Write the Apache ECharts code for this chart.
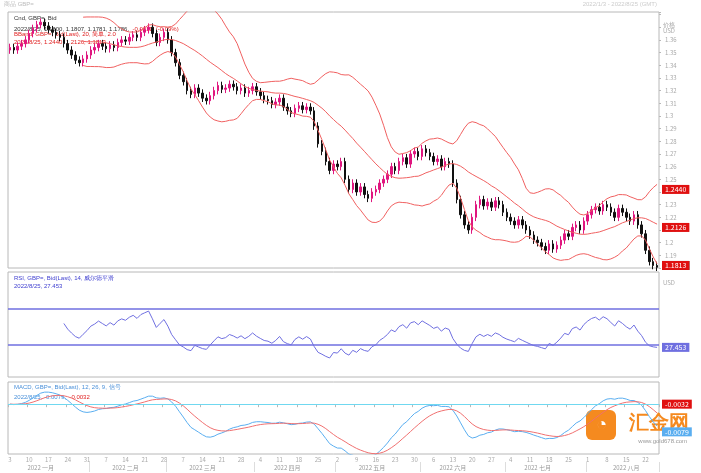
<!DOCTYPE html>
<html>
<head>
<meta charset="utf-8">
<script src="https://cdn.jsdelivr.net/npm/echarts@6/dist/echarts.min.js"></script>
<style>html,body{margin:0;padding:0;background:#fff}#main{width:701px;height:473px}</style>
</head>
<body>
<div id="main"></div>
<script>
// 每月收盘价
var closeJan = [1.352,1.350,1.353,1.355,1.358,1.363,1.367,1.370,1.372,1.369,1.366,1.364,1.362,1.360,1.355,1.350,1.346,1.342,1.340,1.343,1.346];
var closeFeb = [1.350,1.352,1.355,1.353,1.351,1.354,1.352,1.356,1.358,1.357,1.360,1.362,1.360,1.364,1.366,1.368,1.363,1.356,1.360,1.364];
var closeMar = [1.358,1.348,1.340,1.330,1.325,1.318,1.315,1.320,1.316,1.312,1.310,1.314,1.318,1.322,1.319,1.320,1.323,1.321,1.318,1.320,1.316,1.318,1.321];
var closeApr = [1.317,1.314,1.311,1.310,1.307,1.309,1.312,1.305,1.302,1.300,1.304,1.306,1.303,1.305,1.302,1.290,1.276,1.270,1.262,1.255,1.260];
var closeMay = [1.258,1.262,1.248,1.240,1.245,1.238,1.242,1.236,1.233,1.238,1.240,1.245,1.248,1.252,1.258,1.255,1.262,1.265,1.260,1.268,1.270,1.266];
var closeJun = [1.272,1.269,1.266,1.262,1.264,1.258,1.262,1.260,1.245,1.232,1.220,1.212,1.208,1.218,1.228,1.232,1.227,1.230,1.226,1.231,1.228,1.222];
var closeJul = [1.218,1.215,1.212,1.216,1.212,1.208,1.204,1.200,1.198,1.195,1.192,1.197,1.193,1.196,1.200,1.205,1.203,1.210,1.212,1.208,1.215];
var closeAug = [1.220,1.224,1.226,1.223,1.228,1.226,1.222,1.218,1.225,1.222,1.218,1.215,1.220,1.212,1.205,1.192,1.183,1.180,1.1786];
var firstOpen = 1.350;
var monthNames = ['2022 一月','2022 二月','2022 三月','2022 四月','2022 五月','2022 六月','2022 七月','2022 八月'];
var priceTicks = [1.19,1.2,1.21,1.22,1.23,1.24,1.25,1.26,1.27,1.28,1.29,1.3,1.31,1.32,1.33,1.34,1.35,1.36];

var closes = [].concat(closeJan, closeFeb, closeMar, closeApr, closeMay, closeJun, closeJul, closeAug);

// 日期：工作日
var dates = [];
var d = new Date(2022, 0, 3);
while (dates.length < closes.length) {
    var wd = d.getDay();
    if (wd != 0 && wd != 6) dates.push(new Date(d.getTime()));
    d.setDate(d.getDate() + 1);
}
var cats = dates.map(function (x) { return (x.getMonth() + 1) + '/' + x.getDate(); });

// K线 [open, close, low, high]
var kdata = [];
for (var i = 0; i < closes.length; i++) {
    var o = i == 0 ? firstOpen : closes[i - 1];
    var c = closes[i];
    kdata.push([o, c, Math.min(o, c) - 0.003, Math.max(o, c) + 0.003]);
}

// 布林带 20, 2
var mid = [], up = [], lo = [];
for (var i = 0; i < closes.length; i++) {
    if (i < 19) { mid.push('-'); up.push('-'); lo.push('-'); continue; }
    var s = 0;
    for (var j = i - 19; j <= i; j++) s += closes[j];
    var m = s / 20, v = 0;
    for (var j = i - 19; j <= i; j++) v += (closes[j] - m) * (closes[j] - m);
    var sd = Math.sqrt(v / 20);
    mid.push(m); up.push(m + 2 * sd); lo.push(m - 2 * sd);
}

// RSI 14（威尔德平滑）
var rsi = ['-'];
var ag = 0, al = 0;
for (var i = 1; i < closes.length; i++) {
    var ch = closes[i] - closes[i - 1];
    var g = ch > 0 ? ch : 0, l = ch < 0 ? -ch : 0;
    if (i <= 14) { ag += g / 14; al += l / 14; }
    else { ag = (ag * 13 + g) / 14; al = (al * 13 + l) / 14; }
    rsi[i] = i < 14 ? '-' : (al == 0 ? 100 : 100 - 100 / (1 + ag / al));
}

// MACD 12, 26, 9
function ema(arr, n) {
    var k = 2 / (n + 1), out = [arr[0]];
    for (var i = 1; i < arr.length; i++) out.push(arr[i] * k + out[i - 1] * (1 - k));
    return out;
}
var e12 = ema(closes, 12), e26 = ema(closes, 26);
var macd = e12.map(function (x, i) { return x - e26[i]; });
var signal = ema(macd, 9);

var last = closes.length - 1;
function badge(val, bg, txt) {
    return {
        yAxis: val,
        lineStyle: { color: 'rgba(0,0,0,0)', width: 0 },
        label: { show: true, position: 'end', formatter: txt, backgroundColor: bg, color: '#fff', fontSize: 7, padding: [1, 3], distance: 3 }
    };
}

var myChart = echarts.init(document.getElementById('main'));
var gray = '#b8b8b8';
var option = {
    animation: false,
    textStyle: { fontFamily: 'Noto Sans CJK SC' },
    grid: [
        { left: 8, right: 42, top: 12, height: 256, show: true, borderColor: gray },
        { left: 8, right: 42, top: 272, height: 105, show: true, borderColor: gray },
        { left: 8, right: 42, top: 382, height: 72, show: true, borderColor: gray }
    ],
    xAxis: [
        { type: 'category', gridIndex: 0, data: cats, axisLine: { show: false }, axisTick: { show: false }, axisLabel: { show: false } },
        { type: 'category', gridIndex: 1, data: cats, axisLine: { show: false }, axisTick: { show: false }, axisLabel: { show: false } },
        { type: 'category', gridIndex: 2, data: cats, position: 'bottom', axisLine: { show: false },
          axisTick: { show: true, interval: function (i) { return i % 5 == 0; }, lineStyle: { color: gray }, length: 3 },
          axisLabel: { interval: function (i) { return i % 5 == 0; }, formatter: function (v) { return v.split('/')[1]; }, fontSize: 6, color: '#aaa', margin: 3 } },
        { type: 'category', gridIndex: 2, data: cats, position: 'bottom', offset: 8, axisLine: { show: false },
          axisTick: { show: true, interval: function (i) { return i > 0 && cats[i].split('/')[0] != cats[i - 1].split('/')[0]; }, length: 10, lineStyle: { color: '#ddd' } },
          axisLabel: { interval: 0, fontSize: 6, color: '#999', margin: 3,
              formatter: function (v, i) {
                  var p = v.split('/'), day = +p[1];
                  var q = i > 0 ? cats[i - 1].split('/') : ['0', '0'];
                  if (day >= 13 && (+q[1] < 13 || q[0] != p[0])) return monthNames[+p[0] - 1];
                  return '';
              } } }
    ],
    yAxis: [
        { type: 'value', gridIndex: 0, position: 'right', min: 1.178, max: 1.38, interval: 0.01,
          name: '价格\nUSD', nameLocation: 'end', nameGap: -22, nameTextStyle: { fontSize: 6, color: '#aaa', align: 'left', padding: [0, 0, 0, 4] },
          axisLine: { show: false }, axisTick: { show: true, length: 2, lineStyle: { color: gray } }, splitLine: { show: false },
          axisLabel: { fontSize: 6, color: '#aaa', margin: 6,
              formatter: function (v) { v = Math.round(v * 100) / 100; return priceTicks.indexOf(v) >= 0 ? String(v) : ''; } } },
        { type: 'value', gridIndex: 1, position: 'right', min: -5, max: 110, interval: 10,
          name: 'USD', nameLocation: 'end', nameGap: -14, nameTextStyle: { fontSize: 6, color: '#aaa', align: 'left', padding: [0, 0, 0, 4] },
          axisLine: { show: false }, axisTick: { show: false }, splitLine: { show: false },
          axisLabel: { fontSize: 6, color: '#aaa', formatter: function (v) { return v >= 10 && v <= 90 && v % 20 == 10 ? v : ''; } } },
        { type: 'value', gridIndex: 2, position: 'right', min: -0.018, max: 0.008,
          axisLine: { show: false }, axisTick: { show: false }, splitLine: { show: false }, axisLabel: { show: false } }
    ],
    series: [
        { type: 'candlestick', xAxisIndex: 0, yAxisIndex: 0, data: kdata, barWidth: 2,
          itemStyle: { color: '#e0167f', color0: '#111', borderColor: '#e0167f', borderColor0: '#111', borderWidth: 1 },
          markLine: { symbol: 'none', silent: true, data: [badge(closes[last], '#000', '1.1786')] } },
        { type: 'line', xAxisIndex: 0, yAxisIndex: 0, data: up, symbol: 'none', lineStyle: { color: '#f06060', width: 1 },
          markLine: { symbol: 'none', silent: true, data: [badge(up[last], '#e01010', up[last].toFixed(4))] } },
        { type: 'line', xAxisIndex: 0, yAxisIndex: 0, data: mid, symbol: 'none', lineStyle: { color: '#f06060', width: 1 },
          markLine: { symbol: 'none', silent: true, data: [badge(mid[last], '#e01010', mid[last].toFixed(4))] } },
        { type: 'line', xAxisIndex: 0, yAxisIndex: 0, data: lo, symbol: 'none', lineStyle: { color: '#f06060', width: 1 },
          markLine: { symbol: 'none', silent: true, data: [badge(lo[last], '#e01010', lo[last].toFixed(4))] } },
        { type: 'line', xAxisIndex: 1, yAxisIndex: 1, data: rsi, symbol: 'none', lineStyle: { color: '#6f6fe0', width: 1 },
          markLine: { symbol: 'none', silent: true, label: { show: false }, lineStyle: { color: '#6f6fe0', type: 'solid', width: 1.5 },
              data: [{ yAxis: 70 }, { yAxis: 30 }, badge(rsi[last], '#6f6fe0', rsi[last].toFixed(3))] } },
        { type: 'line', xAxisIndex: 2, yAxisIndex: 2, data: macd, symbol: 'none', lineStyle: { color: '#5aaef0', width: 1 },
          markLine: { symbol: 'none', silent: true, label: { show: false }, lineStyle: { color: '#70d8f0', type: 'solid', width: 1.2 },
              data: [{ yAxis: 0 }, badge(macd[last], '#5aaef0', macd[last].toFixed(4))] } },
        { type: 'line', xAxisIndex: 2, yAxisIndex: 2, data: signal, symbol: 'none', lineStyle: { color: '#f07070', width: 1 },
          markLine: { symbol: 'none', silent: true, data: [badge(signal[last], '#e01010', signal[last].toFixed(4))] } }
    ],
    graphic: [
        { type: 'text', left: 4, top: 1, style: { text: '商品 GBP=', fontSize: 6, fill: '#bbb' } },
        { type: 'text', right: 44, top: 1, style: { text: '2022/1/3 - 2022/8/25 (GMT)', fontSize: 6, fill: '#ccc' } },
        { type: 'text', left: 14, top: 15, style: { text: 'Cnd, GBP=, Bid', fontSize: 6, fill: '#333' } },
        { type: 'text', left: 14, top: 23, style: { rich: { a: { fontSize: 6, fill: '#333' }, b: { fontSize: 6, fill: '#e02020' } },
            text: '{a|2022/8/25, 1.1800, 1.1807, 1.1781, 1.1786,} {b|-0.0011, (-0.09%)}' } },
        { type: 'text', left: 14, top: 31, style: { text: 'BBand, GBP=, Bid(Last), 20, 简单, 2.0', fontSize: 6, fill: '#e02020' } },
        { type: 'text', left: 14, top: 39, style: { text: '2022/8/25, ' + up[last].toFixed(4) + ', ' + mid[last].toFixed(4) + ', ' + lo[last].toFixed(4), fontSize: 6, fill: '#e02020' } },
        { type: 'text', left: 14, top: 275, style: { text: 'RSI, GBP=, Bid(Last), 14, 威尔德平滑', fontSize: 6, fill: '#4040d0' } },
        { type: 'text', left: 14, top: 283, style: { text: '2022/8/25, ' + rsi[last].toFixed(3), fontSize: 6, fill: '#4040d0' } },
        { type: 'text', left: 14, top: 384, style: { text: 'MACD, GBP=, Bid(Last), 12, 26, 9, 信号', fontSize: 6, fill: '#4a90d9' } },
        { type: 'text', left: 14, top: 391, style: { rich: { a: { fontSize: 6, fill: '#4a90d9' }, b: { fontSize: 6, fill: '#e02020' } },
            text: '{a|2022/8/25, ' + macd[last].toFixed(4) + ',} {b|' + signal[last].toFixed(4) + '}' } },
        { type: 'rect', right: 85, top: 410, shape: { width: 30, height: 30, r: 6 }, style: { fill: '#f58a1f' } },
        { type: 'text', right: 94, top: 416, style: { text: '◔', fontSize: 18, fill: '#fff' } },
        { type: 'text', right: 12, top: 413, style: { text: '汇金网', fontSize: 20, fontWeight: 'bold', fill: '#f58a1f' } },
        { type: 'text', right: 14, top: 438, style: { text: 'www.gold678.com', fontSize: 6, fill: '#999' } }
    ]
};
myChart.setOption(option);
</script>
</body>
</html>
